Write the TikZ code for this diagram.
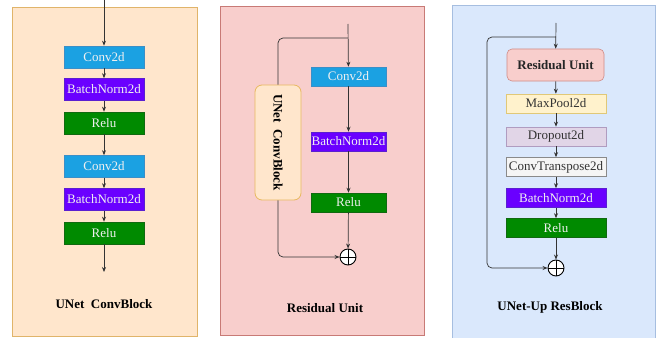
\documentclass[tikz,border=0pt]{standalone}
\usepackage{fontspec}
\setmainfont{Liberation Serif}
\usetikzlibrary{arrows.meta}
\definecolor{p1fill}{HTML}{FFE6CC}
\definecolor{p1draw}{HTML}{E0B46A}
\definecolor{p2fill}{HTML}{F8CECC}
\definecolor{p2draw}{HTML}{C87A76}
\definecolor{p3fill}{HTML}{DAE8FC}
\definecolor{p3draw}{HTML}{A6BEE0}
\definecolor{convfill}{HTML}{1BA1E2}
\definecolor{convdraw}{HTML}{3A8FC8}
\definecolor{bnfill}{HTML}{6A00FF}
\definecolor{bndraw}{HTML}{5A20D0}
\definecolor{relufill}{HTML}{008A00}
\definecolor{reludraw}{HTML}{106A10}
\definecolor{mpfill}{HTML}{FFF2CC}
\definecolor{mpdraw}{HTML}{E0C878}
\definecolor{dofill}{HTML}{E1D5E7}
\definecolor{dodraw}{HTML}{B09CC0}
\definecolor{ctfill}{HTML}{F5F5F5}
\definecolor{ctdraw}{HTML}{8A8A8A}
\definecolor{rufill}{HTML}{F8CECC}
\definecolor{rudraw}{HTML}{D08A86}
\definecolor{cbdraw}{HTML}{E8B860}
\definecolor{linec}{HTML}{333333}
\definecolor{lighttext}{HTML}{F0F0F0}
\tikzset{
  panel/.style={line width=0.9pt},
  blk/.style={draw, line width=0.6pt, inner sep=0pt, font=\fontsize{13}{14}\selectfont},
  convbox/.style={blk, fill=convfill, draw=convdraw, text=lighttext},
  bnbox/.style={blk, fill=bnfill, draw=bndraw, text=lighttext},
  relubox/.style={blk, fill=relufill, draw=reludraw, text=lighttext},
  conn/.style={draw=linec, line width=0.7pt, -{Stealth[length=5pt,width=4pt]}},
  plainline/.style={draw=linec, line width=0.7pt},
  title/.style={font=\bfseries\fontsize{13}{14}\selectfont, text=black},
  oplusnode/.style={circle, draw=black, line width=0.9pt, fill=white, minimum size=16pt, inner sep=0pt,
    path picture={\draw[black, line width=0.9pt] (path picture bounding box.north) -- (path picture bounding box.south)
      (path picture bounding box.west) -- (path picture bounding box.east);}},
}
\begin{document}
\begin{tikzpicture}[x=1pt,y=-1pt]
\useasboundingbox (0,0) rectangle (660,337);
% panels
\path[panel, fill=p1fill, draw=p1draw] (12,7) rectangle (197,336);
\path[panel, fill=p2fill, draw=p2draw] (220,6) rectangle (424,335);
\path[panel, fill=p3fill, draw=p3draw] (452,5) rectangle (655,340);

% ---- panel 1
\coordinate (a0) at (104,0);
\node[convbox, minimum width=80pt, minimum height=22pt] (a1) at (104,57) {Conv2d};
\node[bnbox, minimum width=80pt, minimum height=22pt] (a2) at (104,89.5) {BatchNorm2d};
\node[relubox, minimum width=80pt, minimum height=22pt] (a3) at (104,123) {Relu};
\node[convbox, minimum width=80pt, minimum height=22pt] (a4) at (104,166.5) {Conv2d};
\node[bnbox, minimum width=80pt, minimum height=22pt] (a5) at (104,199.5) {BatchNorm2d};
\node[relubox, minimum width=80pt, minimum height=22pt] (a6) at (104,233) {Relu};
\coordinate (a7) at (104,272);
\draw[conn] (a0) -- (a1);
\draw[conn] (a1) -- (a2);
\draw[conn] (a2) -- (a3);
\draw[conn] (a3) -- (a4);
\draw[conn] (a4) -- (a5);
\draw[conn] (a5) -- (a6);
\draw[conn] (a6) -- (a7);
\node[title] (t1) at (104,304) {UNet\ \ ConvBlock};

% ---- panel 2
\coordinate (b0) at (348,24);
\coordinate (bs) at (348,38);
\node[convbox, minimum width=75pt, minimum height=19pt] (b1) at (348.5,76.5) {Conv2d};
\node[bnbox, minimum width=75pt, minimum height=19pt] (b2) at (348.5,141.5) {BatchNorm2d};
\node[relubox, minimum width=75pt, minimum height=19pt] (b3) at (348.5,202.5) {Relu};
\node[oplusnode] (b4) at (348,257) {};
\node[draw=cbdraw, fill=p1fill, line width=0.8pt, rounded corners=7pt, minimum width=46pt, minimum height=115pt, inner sep=0pt] (cb) at (278,142.5) {};
\node[title, rotate=-90] (cbt) at (cb.center) {UNet\ \ ConvBlock};
\draw[conn] (b0) -- (b1);
\draw[conn] (b1) -- (b2);
\draw[conn] (b2) -- (b3);
\draw[conn] (b3) -- (b4);
\draw[plainline, rounded corners=5pt] (bs) -| (cb.north);
\draw[conn, rounded corners=5pt] (cb.south) |- (b4);
\node[title] (t2) at (325,308) {Residual Unit};

% ---- panel 3
\coordinate (c0) at (556,23);
\coordinate (cs) at (556,37);
\node[blk, fill=rufill, draw=rudraw, rounded corners=5pt, minimum width=97pt, minimum height=32pt, font=\bfseries\fontsize{13}{14}\selectfont, text=black!85] (c1) at (555.5,65) {Residual Unit};
\node[blk, fill=mpfill, draw=mpdraw, minimum width=100pt, minimum height=19pt, text=black!80] (c2) at (556,103.5) {MaxPool2d};
\node[blk, fill=dofill, draw=dodraw, minimum width=100pt, minimum height=19pt, text=black!80] (c3) at (556,136.5) {Dropout2d};
\node[blk, fill=ctfill, draw=ctdraw, minimum width=100pt, minimum height=19pt, text=black!80] (c4) at (556,167) {ConvTranspose2d};
\node[bnbox, minimum width=100pt, minimum height=19pt] (c5) at (556,198) {BatchNorm2d};
\node[relubox, minimum width=100pt, minimum height=19pt] (c6) at (556,228) {Relu};
\node[oplusnode] (c7) at (556,268) {};
\coordinate (cl) at (487,150);
\draw[conn] (c0) -- (c1);
\draw[conn] (c1) -- (c2);
\draw[conn] (c2) -- (c3);
\draw[conn] (c3) -- (c4);
\draw[conn] (c4) -- (c5);
\draw[conn] (c5) -- (c6);
\draw[conn] (c6) -- (c7);
\draw[conn, rounded corners=5pt] (cs) -| (cl) |- (c7);
\node[title] (t3) at (550,307) {UNet-Up ResBlock};
\end{tikzpicture}
\end{document}
